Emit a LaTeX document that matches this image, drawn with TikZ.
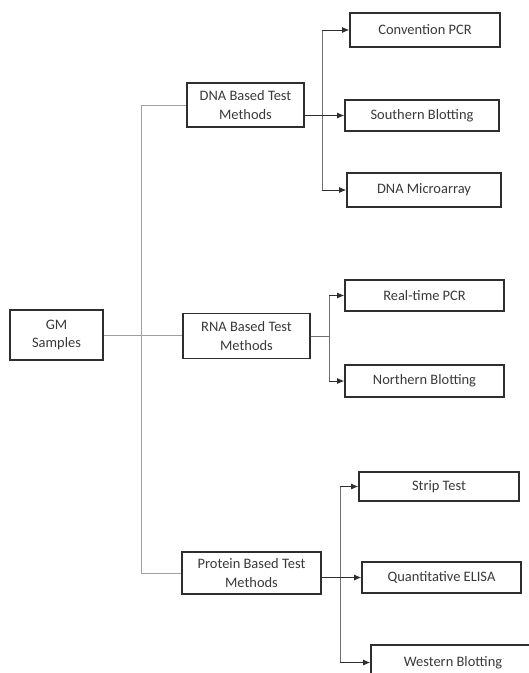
\documentclass[tikz,border=0pt]{standalone}
\usepackage{fontspec}
\setmainfont{Carlito}
\usetikzlibrary{arrows.meta}
\definecolor{txt}{HTML}{3A3A3A}
\definecolor{edge}{HTML}{2E2E2E}
\definecolor{trunk}{HTML}{A0A0A0}
\definecolor{branch}{HTML}{707070}
\tikzset{
  box/.style={draw=edge, line width=1.6bp, inner sep=0pt, align=center,
    text=txt, font=\fontsize{14.5}{18.5}\selectfont},
  trunkline/.style={draw=trunk, line width=0.8bp},
  branchline/.style={draw=branch, line width=0.8bp},
  arr/.style={draw=edge, line width=0.9bp, -{Latex[length=7bp,width=6bp]}},
}
\begin{document}
\begin{tikzpicture}[x=1bp,y=-1bp]
\clip (0,0) rectangle (529,673);
\fill[white] (0,0) rectangle (529,673);
% boxes
\node[box, minimum width=93bp, minimum height=50bp] (gm) at (56.5,335) {GM\\Samples};
\node[box, minimum width=117bp, minimum height=44bp] (dna) at (245.5,105) {DNA Based Test\\Methods};
\node[box, minimum width=127bp, minimum height=45bp] (rna) at (246.5,336) {RNA Based Test\\Methods};
\node[box, minimum width=139bp, minimum height=42bp] (prot) at (251.5,573) {Protein Based Test\\Methods};
\node[box, minimum width=150bp, minimum height=34bp] (conv) at (425,30) {Convention PCR};
\node[box, minimum width=154bp, minimum height=31bp] (south) at (422,115.5) {Southern Blotting};
\node[box, minimum width=154bp, minimum height=34bp] (micro) at (424,190) {DNA Microarray};
\node[box, minimum width=159bp, minimum height=31bp] (rt) at (424.5,295.5) {Real-time PCR};
\node[box, minimum width=159bp, minimum height=32bp] (north) at (424.5,381) {Northern Blotting};
\node[box, minimum width=160bp, minimum height=29bp] (strip) at (439,486.5) {Strip Test};
\node[box, minimum width=159bp, minimum height=31bp] (elisa) at (441.5,577.5) {Quantitative ELISA};
\node[box, minimum width=164bp, minimum height=35bp] (west) at (453,662.5) {Western Blotting};
% trunk
\coordinate (tk) at (141,0);
\draw[trunkline] (tk |- dna.west) -- (tk |- prot.west);
\draw[trunkline] (tk |- dna.west) -- (dna.west);
\draw[trunkline] (tk |- prot.west) -- (prot.west);
\draw[trunkline] (gm.east) -- (gm.east -| rna.west);
% DNA branch
\coordinate (db) at (322,0);
\draw[branchline] (db |- conv.west) -- (db |- micro.west);
\draw[arr] (db |- conv.west) -- (conv.west);
\draw[arr] (dna.east |- south.west) -- (south.west);
\draw[arr] (db |- micro.west) -- (micro.west);
% RNA branch
\coordinate (rb) at (329,0);
\draw[branchline] (rb |- rt.west) -- (rb |- north.west);
\draw[branchline] (rna.east) -- (rb |- rna.east);
\draw[arr] (rb |- rt.west) -- (rt.west);
\draw[arr] (rb |- north.west) -- (north.west);
% Protein branch
\coordinate (pb) at (340,0);
\draw[branchline] (pb |- strip.west) -- (pb |- west.west);
\draw[arr] (prot.east |- elisa.west) -- (elisa.west);
\draw[arr] (pb |- strip.west) -- (strip.west);
\draw[arr] (pb |- west.west) -- (west.west);
\end{tikzpicture}
\end{document}
